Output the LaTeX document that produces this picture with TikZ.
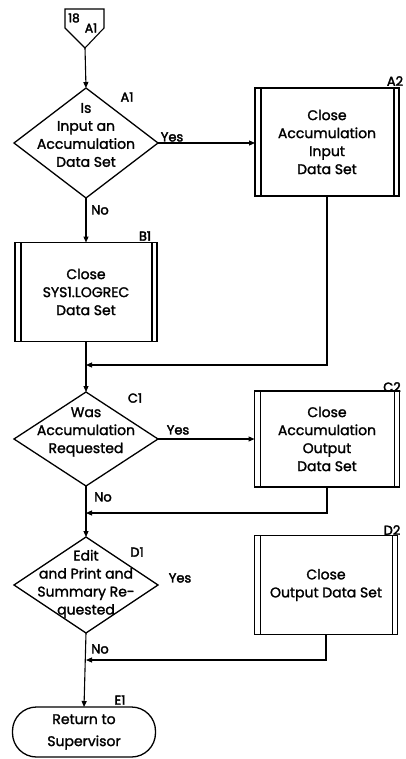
\documentclass[tikz,border=0pt]{standalone}
\usepackage{fontspec}
\setmainfont{Poppins}[FakeBold=1.6]
\newfontfamily\lblfont{Poppins}[FakeBold=2.6]
\usetikzlibrary{shapes.geometric,arrows.meta}
\begin{document}
\begin{tikzpicture}[x=1pt,y=-1pt,
  line/.style={line width=1.1pt},
  arr/.style={line width=1.1pt,-{Triangle[length=6pt,width=5pt]}},
  dec/.style={diamond,draw,line width=1.3pt,inner sep=0pt,outer sep=0pt},
  proc/.style={draw,line width=1.3pt,outer sep=0pt,align=center,
    font=\fontsize{14}{18}\selectfont,
    path picture={
      \draw[line width=1.1pt] ([xshift=6pt]path picture bounding box.north west) -- ([xshift=6pt]path picture bounding box.south west);
      \draw[line width=1.1pt] ([xshift=-5pt]path picture bounding box.north east) -- ([xshift=-5pt]path picture bounding box.south east);}},
  txt/.style={align=center,font=\fontsize{14}{18}\selectfont,inner sep=0pt},
  lbl/.style={font=\lblfont\fontsize{13}{12}\selectfont,inner sep=0pt},
  term/.style={draw,line width=1.3pt,rounded corners=24pt,align=center,outer sep=0pt,font=\fontsize{14}{22}\selectfont}
]
\useasboundingbox (0,0) rectangle (405,759);

% off-page connector
\draw[line] (65,9) -- (104,9) -- (104,28) -- (85,48) -- (65,28) -- cycle;
\coordinate (opb) at (85,48);
\node[font=\lblfont\fontsize{12}{10}\selectfont,inner sep=0pt] (opn) at (74,18) {18};
\node[font=\lblfont\fontsize{12.5}{11}\selectfont,inner sep=0pt] (opl) at (91,28) {A1};

% decisions
\node[dec,minimum width=144pt,minimum height=110pt] (a1) at (86,143) {};
\node[txt] (a1t) at (86,135) {Is\\Input an\\Accumulation\\Data Set};
\node[dec,minimum width=144pt,minimum height=94pt] (c1) at (86,439) {};
\node[txt] (c1t) at (86,432) {Was\\Accumulation\\Requested};
\node[dec,minimum width=144pt,minimum height=96pt] (d1) at (86,585) {};
\node[txt] (d1t) at (86,584) {Edit\\and Print and\\Summary Re-\\quested};

% processes
\node[proc,minimum width=144pt,minimum height=108pt] (a2) at (327,142) {Close\\Accumulation\\Input\\Data Set};
\node[proc,minimum width=142pt,minimum height=99pt] (b1) at (86,292) {Close\\SYS1.LOGREC\\Data Set};
\node[proc,minimum width=145pt,minimum height=96pt] (c2) at (327,439) {Close\\Accumulation\\Output\\Data Set};
\node[proc,minimum width=143pt,minimum height=99pt] (d2) at (326,585) {Close\\Output Data Set};

% terminal
\node[term,minimum width=143pt,minimum height=50pt] (e1) at (84,732) {Return to\\Supervisor};

% junctions
\coordinate (j1) at (86,365);
\coordinate (j2) at (86,513);
\coordinate (j3) at (86,660);

% connectors
\draw[arr] (opb) -- (a1.north);
\draw[arr] (a1.east) -- (a1.east -| a2.west);
\draw[arr] (a1.south) -- (b1.north);
\draw[arr] (b1.south) -- (c1.north);
\draw[arr] (a2.south) |- (j1);
\draw[arr] (c1.east) -- (c1.east -| c2.west);
\draw[arr] (c1.south) -- (d1.north);
\draw[arr] (c2.south) |- (j2);
\draw[arr] (d1.south) -- (e1.north);
\draw[arr] (d2.south) |- (j3);

% reference labels
\node[lbl] (la1) at (127,97) {A1};
\node[lbl] (la2) at (395,81) {A2};
\node[lbl] (lb1) at (145,236) {B1};
\node[lbl] (lc1) at (135,398) {C1};
\node[lbl] (lc2) at (392,387) {C2};
\node[lbl] (ld1) at (137,552) {D1};
\node[lbl] (ld2) at (392,530) {D2};
\node[lbl] (le1) at (120,700) {E1};

% yes/no
\node[lbl] (y1) at (172,137) {Yes};
\node[lbl] (y2) at (178,430) {Yes};
\node[lbl] (y3) at (180,578) {Yes};
\node[lbl] (n1) at (100,210) {No};
\node[lbl] (n2) at (103,497) {No};
\node[lbl] (n3) at (100,649) {No};
\end{tikzpicture}
\end{document}
